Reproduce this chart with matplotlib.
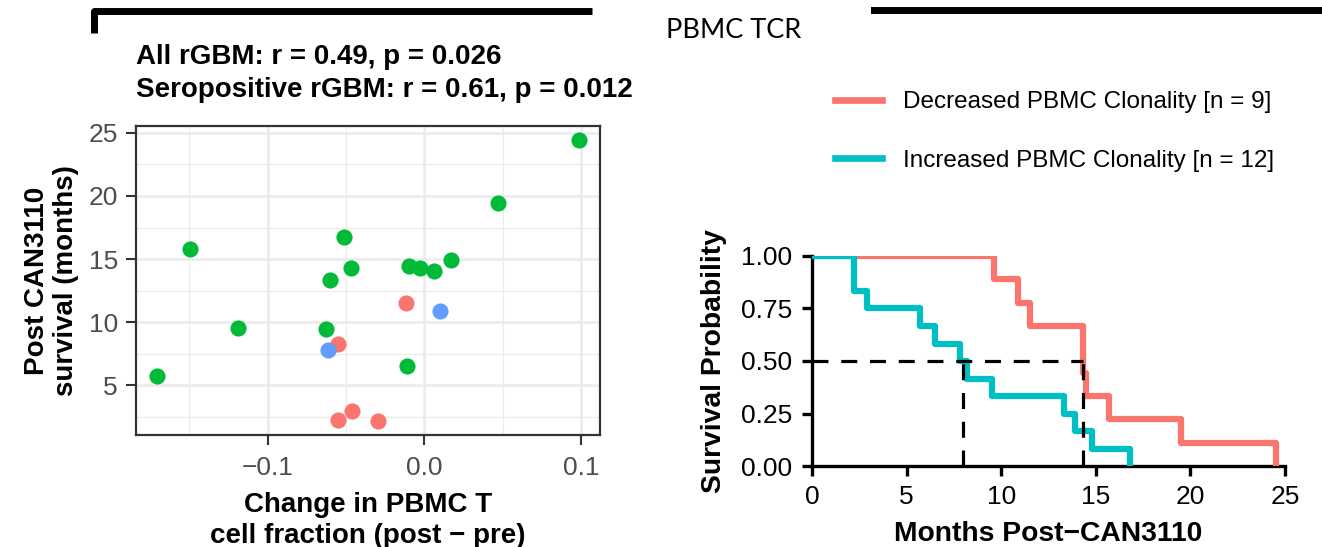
import matplotlib
matplotlib.use("Agg")
import matplotlib.pyplot as plt
from matplotlib.lines import Line2D
import numpy as np

# change in PBMC T cell fraction vs post-CAN3110 survival, by serostatus
sero_pos_x = [0.0985, 0.0468, -0.0513, -0.1497, -0.0466, -0.0601, -0.0101,
              -0.0025, 0.0061, 0.0169, -0.1187, -0.0627, -0.0114, -0.1704]
sero_pos_y = [24.43, 19.48, 16.78, 15.78, 14.29, 13.38, 14.48,
              14.27, 14.03, 14.90, 9.58, 9.48, 6.56, 5.71]
sero_neg_x = [-0.0116, -0.0553, -0.0462, -0.0551, -0.0297]
sero_neg_y = [11.51, 8.28, 2.99, 2.26, 2.18]
sero_na_x = [0.0101, -0.0616]
sero_na_y = [10.86, 7.77]

x_ticks = [-0.1, 0.0, 0.1]
x_tick_labels = ["\u22120.1", "0.0", "0.1"]
y_ticks = [5, 10, 15, 20, 25]

# event times (months) for the two PBMC clonality groups
dec_times = [9.6, 10.9, 11.5, 14.3, 14.3, 14.5, 15.7, 19.5, 24.5]
inc_times = [2.2, 2.2, 2.9, 5.7, 6.5, 7.8, 8.2, 9.5, 13.3, 13.9, 14.8, 16.8]

km_x_ticks = [0, 5, 10, 15, 20, 25]
km_y_ticks = [0.0, 0.25, 0.5, 0.75, 1.0]
km_y_tick_labels = ["0.00", "0.25", "0.50", "0.75", "1.00"]

RED = "#F8766D"
GREEN = "#00BA38"
BLUE = "#619CFF"
CYAN = "#00BFC4"

W, H = 1322, 547
plt.rcParams["font.family"] = ["Liberation Sans", "DejaVu Sans"]


def box(l, t, r, b):
    return [l / W, 1 - b / H, (r - l) / W, (b - t) / H]


def km_curve(times):
    times = np.sort(np.asarray(times, dtype=float))
    n = len(times)
    at_risk = n
    surv = 1.0
    xs, ys = [0.0], [1.0]
    for t in np.unique(times):
        d = np.sum(times == t)
        surv *= (at_risk - d) / at_risk
        at_risk -= d
        xs.append(t)
        ys.append(surv)
    return np.array(xs), np.array(ys)


def km_median(xs, ys):
    for i in range(1, len(ys)):
        if np.isclose(ys[i], 0.5) and i + 1 < len(xs):
            return (xs[i] + xs[i + 1]) / 2
        if ys[i] < 0.5:
            return xs[i]
    return np.nan


fig = plt.figure(figsize=(W / 100, H / 100), dpi=100)

# ---- scatter panel ----
ax1 = fig.add_axes(box(136, 126, 600, 435))
ax1.scatter(sero_pos_x, sero_pos_y, s=135, color=GREEN, linewidths=0, zorder=3)
ax1.scatter(sero_neg_x, sero_neg_y, s=135, color=RED, linewidths=0, zorder=3)
ax1.scatter(sero_na_x, sero_na_y, s=135, color=BLUE, linewidths=0, zorder=3)
ax1.margins(0.05)
ax1.set_xticks(x_ticks)
ax1.set_xticklabels(x_tick_labels)
ax1.set_yticks(y_ticks)
ax1.set_xticks([-0.15, -0.05, 0.05], minor=True)
ax1.set_yticks([2.5, 7.5, 12.5, 17.5, 22.5], minor=True)
ax1.set_axisbelow(True)
ax1.grid(which="major", color="#EBEBEB", lw=1.8)
ax1.grid(which="minor", color="#EBEBEB", lw=0.9)
ax1.tick_params(which="minor", length=0)
ax1.tick_params(which="major", length=7, width=1.5, color="#333333",
                labelcolor="#4D4D4D", labelsize=19, pad=6)
ax1.tick_params(axis="x", which="major", pad=8)
for sp in ax1.spines.values():
    sp.set_color("#333333")
    sp.set_linewidth(1.6)
ax1.set_xlabel("Change in PBMC T\ncell fraction (post \u2212 pre)", fontsize=20,
               fontweight="bold", labelpad=9, linespacing=1.25)
ax1.set_ylabel("Post CAN3110\nsurvival (months)", fontsize=20,
               fontweight="bold", labelpad=7, linespacing=1.15)
fig.text(136 / W, 1 - 57 / H, "All rGBM: r = 0.49, p = 0.026", ha="left",
         va="center", fontsize=20, fontweight="bold")
fig.text(136 / W, 1 - 90 / H, "Seropositive rGBM: r = 0.61, p = 0.012", ha="left",
         va="center", fontsize=20, fontweight="bold")

# ---- Kaplan-Meier panel ----
ax2 = fig.add_axes(box(812, 256, 1285, 466))
dec_x, dec_y = km_curve(dec_times)
inc_x, inc_y = km_curve(inc_times)
ax2.step(dec_x, dec_y, where="post", color=RED, lw=4.5, zorder=3)
ax2.step(inc_x, inc_y, where="post", color=CYAN, lw=4.5, zorder=3)
ax2.set_xlim(0, 25)
ax2.set_ylim(0, 1)

med_dec = km_median(dec_x, dec_y)
med_inc = km_median(inc_x, inc_y)
dash = dict(color="black", lw=2.3, dashes=(5, 4), zorder=4)
ax2.plot([0, max(med_dec, med_inc)], [0.5, 0.5], **dash)
ax2.plot([med_inc, med_inc], [0, 0.5], **dash)
ax2.plot([med_dec, med_dec], [0, 0.5], **dash)

ax2.set_xticks(km_x_ticks)
ax2.set_yticks(km_y_ticks)
ax2.set_yticklabels(km_y_tick_labels)
ax2.spines["top"].set_visible(False)
ax2.spines["right"].set_visible(False)
for sp in ("left", "bottom"):
    ax2.spines[sp].set_linewidth(2.4)
    ax2.spines[sp].set_color("black")
ax2.tick_params(length=7, width=2.4, color="black", labelcolor="black",
                labelsize=19, pad=7)
ax2.set_xlabel("Months Post\u2212CAN3110", fontsize=20.3, fontweight="bold", labelpad=8)
ax2.set_ylabel("Survival Probability", fontsize=20.3, fontweight="bold", labelpad=10)

handles = [Line2D([], [], color=RED, lw=4.8), Line2D([], [], color=CYAN, lw=4.8)]
labels = [f"Decreased PBMC Clonality [n = {len(dec_times)}]",
          f"Increased PBMC Clonality [n = {len(inc_times)}]"]
fig.legend(handles, labels, loc="center left", bbox_to_anchor=(835 / W, 1 - 131.5 / H),
           frameon=False, fontsize=17.5, handlelength=1.93, handletextpad=0.86,
           labelspacing=1.5, borderpad=0, borderaxespad=0)

# ---- header bracket ----
fig.add_artist(Line2D([94 / W, 94 / W, 592 / W], [1 - 33 / H, 1 - 11 / H, 1 - 11 / H],
                      transform=fig.transFigure, color="black", lw=5,
                      solid_joinstyle="round", solid_capstyle="butt"))
fig.add_artist(Line2D([874 / W, 1.0], [1 - 10 / H, 1 - 10 / H],
                      transform=fig.transFigure, color="black", lw=5))
fig.text(734 / W, 1 - 30 / H, "PBMC TCR", ha="center", va="center",
         fontsize=19.5, family=["Lato", "DejaVu Sans"])

fig.savefig("out.png", dpi=100)
